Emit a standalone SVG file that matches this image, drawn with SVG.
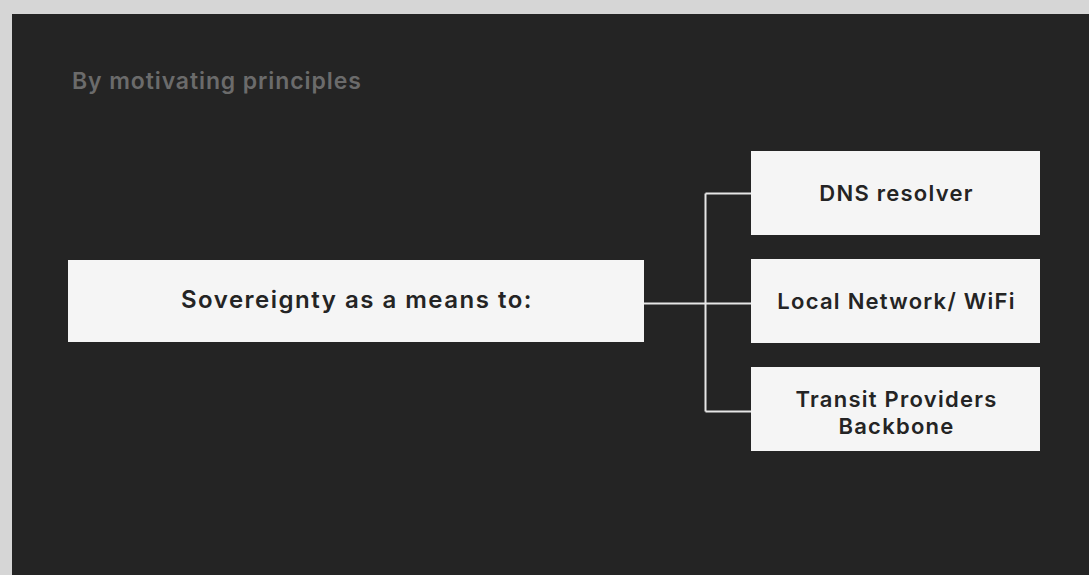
<svg xmlns="http://www.w3.org/2000/svg" width="1089" height="575" viewBox="0 0 1089 575">
<style>
.box{fill:#f5f5f5}
.lbl{font-family:Inter,"Noto Sans","Liberation Sans",sans-serif;font-weight:600;fill:#242424;text-anchor:middle}
.sm{font-size:22px;letter-spacing:1.25px}
.conn{fill:none;stroke:#e6e6e6;stroke-width:2}
</style>
<rect x="0" y="0" width="1089" height="575" fill="#d6d6d6"/>
<rect x="12" y="14" width="1077" height="561" fill="#242424"/>
<text x="72" y="89" font-family="Inter,'Noto Sans','Liberation Sans',sans-serif" font-weight="600" font-size="23" fill="#6b6b6b" letter-spacing="0.9">By motivating principles</text>
<g id="connectors">
<path class="conn" d="M644 303.5H705.5M705.5 193.5V411.5M705.5 193.5H751M705.5 303.5H751M705.5 411.5H751"/>
</g>
<g id="main">
<rect class="box" x="68" y="260" width="576" height="82"/>
<text class="lbl" x="357" y="308" font-size="24" letter-spacing="1.5">Sovereignty as a means to:</text>
</g>
<g id="dns">
<rect class="box" x="751" y="151" width="289" height="84"/>
<text class="lbl sm" x="896.5" y="201">DNS resolver</text>
</g>
<g id="local">
<rect class="box" x="751" y="259" width="289" height="84"/>
<text class="lbl sm" x="896.5" y="308.5">Local Network/ WiFi</text>
</g>
<g id="transit">
<rect class="box" x="751" y="367" width="289" height="84"/>
<text class="lbl sm" x="896.5" y="407">Transit Providers</text>
<text class="lbl sm" x="896.5" y="433.5">Backbone</text>
</g>
</svg>
